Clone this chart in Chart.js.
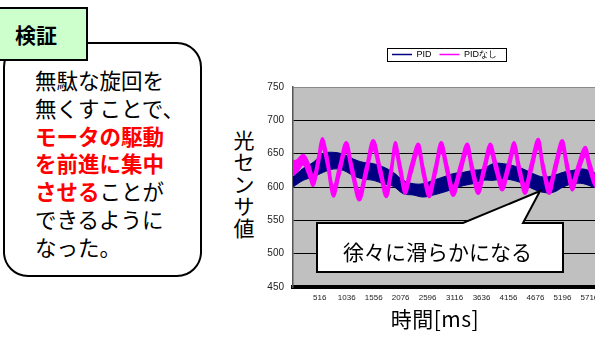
<!DOCTYPE html>
<html>
<head>
<meta charset="utf-8">
<script src="https://cdn.jsdelivr.net/npm/chart.js@4.4.1/dist/chart.umd.min.js"></script>
<style>
  html, body { margin: 0; padding: 0; width: 595px; height: 337px; overflow: hidden; background: #fff; }
  body { position: relative; font-family: "Noto Sans CJK JP", sans-serif; }
  .box { position: absolute; left: 3px; top: 42px; width: 195px; height: 231px; border: 2px solid #000; border-radius: 25px; background: #fff; }
  .tab { position: absolute; left: -3px; top: 7px; width: 87px; height: 50px; border: 2px solid #000; background: #ccffcc; }
  .tab span { position: absolute; left: 16px; top: 12px; font-size: 21px; line-height: 26px; font-weight: bold; }
  .note { position: absolute; left: 35px; top: 66px; font-size: 21.5px; line-height: 27.8px; color: #000; white-space: nowrap; }
  .red { color: #ff0000; font-weight: bold; }
  .ytitle { position: absolute; left: 233px; top: 128px; width: 22px; font-size: 21px; line-height: 22px; text-align: center; }
  .xtitle { position: absolute; left: 380px; top: 304px; width: 110px; text-align: center; font-size: 21px; line-height: 28px; letter-spacing: 0.5px; }
  #wrap { position: absolute; left: 220px; top: 0; width: 449px; height: 337px; }
  svg { position: absolute; left: 0; top: 0; }
  .callout { position: absolute; left: 343px; top: 237px; font-size: 21px; line-height: 28px; white-space: nowrap; }
</style>
</head>
<body>
<div class="box"></div>
<div class="tab"><span>検証</span></div>
<div class="note">無駄な旋回を<br>無くすことで、<br><span class="red">モータの駆動</span><br><span class="red">を前進に集中</span><br><span class="red">させる</span>ことが<br>できるように<br>なった。</div>
<div class="ytitle">光<br>セ<br>ン<br>サ<br>値</div>
<div id="wrap"><canvas id="c" width="449" height="337"></canvas></div>
<div class="xtitle">時間[ms]</div>
<svg width="595" height="337">
  <path d="M317,223 L463,223 L540,191 L523,223 L563,223 L563,272 L317,272 Z" fill="#fff" stroke="#000" stroke-width="2"/>
</svg>
<div class="callout">徐々に滑らかになる</div>
<script>
// x positions in ms
const xTicks = [516, 1036, 1556, 2076, 2596, 3116, 3636, 4156, 4676, 5196, 5716];
const yTicks = [450, 500, 550, 600, 650, 700, 750];

// PID (navy band: upper / lower edge of the noisy trace)
const pidX  = [0, 198, 391, 584, 777, 969, 1162, 1355, 1547, 1740, 1933, 2126, 2318, 2511, 2704, 2896, 3089, 3282, 3475, 3667, 3860, 4053, 4246, 4439, 4632, 4824, 5017, 5210, 5402, 5595, 5787, 6000, 6300, 6600, 6900, 7251];
const pidHi = [615, 628, 637, 650, 652, 649, 642, 637, 635, 630, 622, 610, 605, 605, 610, 615, 620, 622, 625, 627, 635, 635, 632, 627, 620, 615, 617, 622, 625, 627, 622, 615, 612, 615, 620, 622];
const pidLo = [600, 610, 615, 622, 627, 625, 617, 612, 610, 605, 601, 590, 588, 585, 588, 592, 597, 602, 605, 610, 610, 612, 610, 605, 597, 592, 592, 600, 605, 605, 600, 595, 592, 595, 600, 602];

// PIDなし (magenta band)
const noX  = [0, 83, 198, 295, 391, 488, 565, 661, 777, 892, 1027, 1143, 1278, 1412, 1547, 1682, 1798, 1894, 1971, 2068, 2164, 2280, 2415, 2511, 2627, 2742, 2858, 2973, 3089, 3224, 3359, 3455, 3571, 3687, 3802, 3918, 4034, 4150, 4265, 4362, 4477, 4593, 4728, 4824, 4940, 5056, 5190, 5286, 5383, 5498, 5633, 5729, 5845, 5960, 6076, 6190, 6307, 6420, 6538, 6650, 6770, 6885, 7000, 7251];
const noHi = [638, 640, 648, 636, 616, 646, 673, 646, 600, 631, 667, 631, 594, 631, 670, 631, 599, 631, 667, 634, 604, 634, 665, 631, 599, 631, 667, 633, 601, 633, 665, 634, 604, 634, 665, 636, 609, 636, 667, 634, 604, 636, 672, 636, 604, 636, 670, 638, 609, 634, 660, 636, 614, 636, 660, 636, 614, 636, 660, 636, 614, 636, 660, 628];
const noLo = [618, 624, 634, 620, 602, 632, 658, 632, 586, 617, 653, 617, 580, 617, 656, 617, 585, 617, 653, 620, 590, 620, 651, 617, 585, 617, 653, 619, 587, 619, 651, 620, 590, 620, 651, 622, 595, 622, 653, 620, 590, 622, 658, 622, 590, 622, 656, 624, 595, 620, 646, 622, 600, 622, 646, 622, 600, 622, 646, 622, 600, 622, 646, 614];

const NAVY = '#000080', MAGENTA = '#ff00ff';
const pts = (xs, ys) => xs.map((x, i) => ({ x: x, y: ys[i] }));

const plotBg = {
  id: 'plotBg',
  beforeDraw(chart) {
    const a = chart.chartArea, ctx = chart.ctx;
    ctx.save();
    ctx.fillStyle = '#c0c0c0';
    ctx.fillRect(a.left, a.top, a.right - a.left, a.bottom - a.top);
    ctx.restore();
  }
};

// extra gap between legend and plot
const legendGap = {
  id: 'legendGap',
  beforeLayout(chart) {
    const lg = chart.legend;
    if (!lg || lg._gapPatched) return;
    const fit = lg.fit;
    lg.fit = function () { fit.call(this); this.height += 18; };
    lg._gapPatched = true;
  }
};

const legendBox = {
  id: 'legendBox',
  afterDraw(chart) {
    const hb = chart.legend && chart.legend.legendHitBoxes;
    if (!hb || !hb.length) return;
    let l = Infinity, r = -Infinity, t = Infinity, b = -Infinity;
    hb.forEach(h => { l = Math.min(l, h.left); r = Math.max(r, h.left + h.width); t = Math.min(t, h.top); b = Math.max(b, h.top + h.height); });
    const ctx = chart.ctx;
    ctx.save();
    ctx.strokeStyle = '#000';
    ctx.lineWidth = 1;
    ctx.strokeRect(Math.round(l - 5) + 0.5, Math.round(t - 2) + 0.5, Math.round(r - l + 14), Math.round(b - t + 4));
    ctx.restore();
  }
};

const line = { pointRadius: 0, borderWidth: 1, tension: 0.4 };

new Chart(document.getElementById('c'), {
  type: 'line',
  data: {
    datasets: [
      { ...line, label: 'PIDなし', data: pts(noX, noHi), borderColor: MAGENTA, backgroundColor: MAGENTA, borderWidth: 2.5, fill: '+1' },
      { ...line, label: '_noLo', data: pts(noX, noLo), borderColor: MAGENTA, backgroundColor: MAGENTA, borderWidth: 2.5, fill: false },
      { ...line, label: 'PID', data: pts(pidX, pidHi), borderColor: NAVY, backgroundColor: NAVY, fill: '+1' },
      { ...line, label: '_pidLo', data: pts(pidX, pidLo), borderColor: NAVY, backgroundColor: NAVY, fill: false }
    ]
  },
  options: {
    responsive: false,
    animation: false,
    layout: { padding: { top: 42, left: 0, right: 0, bottom: 0 } },
    plugins: {
      tooltip: { enabled: false },
      legend: {
        position: 'top',
        labels: {
          font: { family: 'Arial', size: 9 },
          color: '#000',
          padding: 8,
          usePointStyle: true,
          pointStyleWidth: 20,
          generateLabels(chart) {
            const all = Chart.defaults.plugins.legend.labels.generateLabels(chart);
            const pid = all.find(l => l.datasetIndex === 2);
            const no = all.find(l => l.datasetIndex === 0);
            return [pid, no].map(l => ({ ...l, pointStyle: 'line', lineWidth: 1.5 }));
          }
        }
      }
    },
    scales: {
      x: {
        type: 'linear',
        min: 0,
        max: 7251,
        afterBuildTicks(scale) { scale.ticks = xTicks.map(v => ({ value: v })); },
        afterFit(scale) { scale.height = 50; },
        grid: { display: false, drawTicks: false },
        border: { color: '#000', width: 4 },
        ticks: { autoSkip: false, maxRotation: 0, padding: 6, color: '#222', font: { family: 'Arial', size: 8 }, callback: v => String(v) }
      },
      y: {
        min: 450,
        max: 750,
        afterBuildTicks(scale) { scale.ticks = yTicks.map(v => ({ value: v })); },
        afterFit(scale) { scale.width = 73; },
        grid: {
          drawTicks: false,
          color: ctx => ctx.tick && ctx.tick.value === 750 ? '#8a8a8a' : (ctx.tick && ctx.tick.value === 450 ? 'rgba(0,0,0,0)' : '#000'),
          lineWidth: 1
        },
        border: { color: '#555', width: 1.5 },
        ticks: { padding: 9, color: '#222', font: { family: 'Arial', size: 10 }, callback: v => String(v) }
      }
    }
  },
  plugins: [plotBg, legendGap, legendBox]
});
</script>
</body>
</html>
